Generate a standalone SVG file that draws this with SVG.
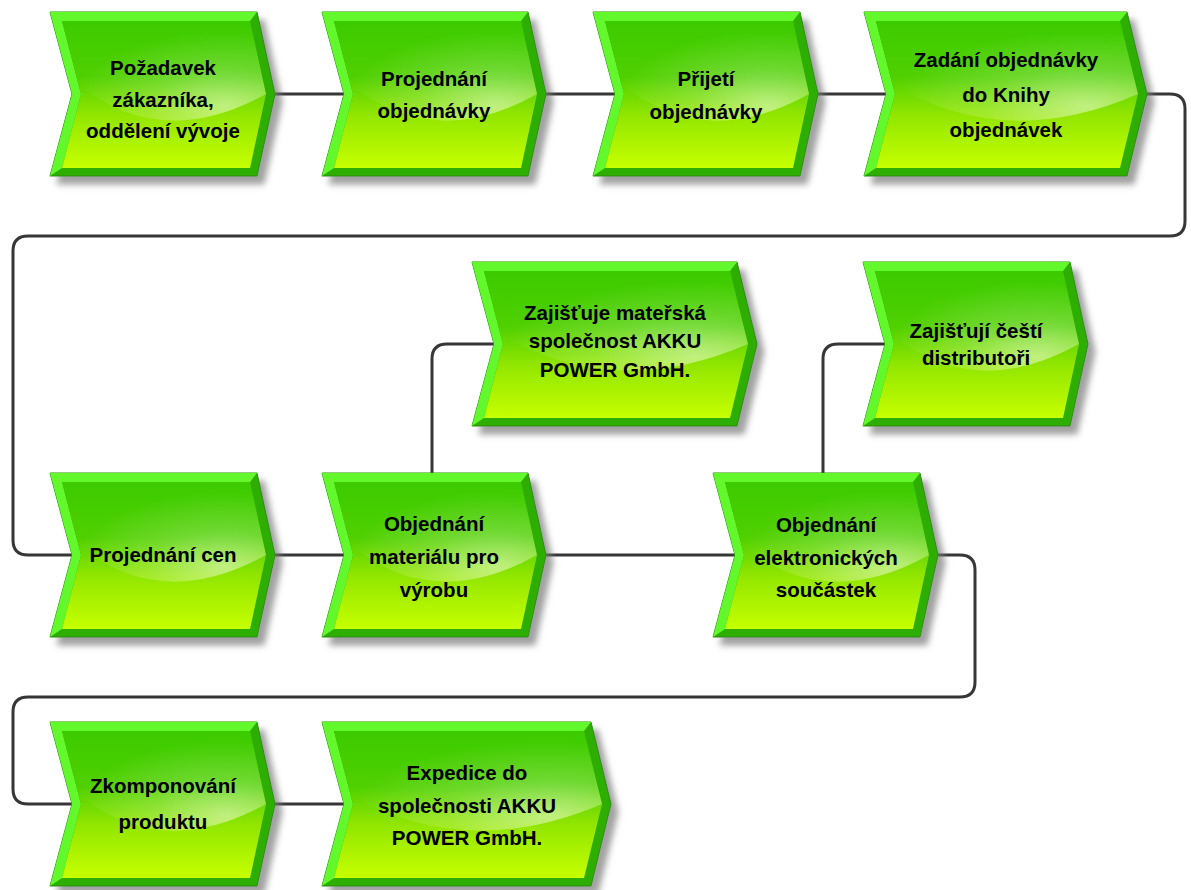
<svg xmlns="http://www.w3.org/2000/svg" width="1191" height="890" viewBox="0 0 1191 890">
  <style>
    .edge { fill: none; stroke: #363636; stroke-width: 3; stroke-linejoin: round; }
    .body { fill: #2fae00; stroke: #2a8f0c; stroke-width: 1; filter: url(#drop); }
    .lit { fill: #62f82c; }
    .face { fill: url(#faceGrad); }
    .gloss { fill: url(#glossGrad); }
    text { font-family: "Liberation Sans", Arial, sans-serif; font-weight: bold; font-size: 20.5px; fill: #000; text-anchor: middle; }
  </style>
  <defs>
    <linearGradient id="faceGrad" x1="0" y1="0" x2="0" y2="1">
      <stop offset="0" stop-color="#3ccb00"/>
      <stop offset="0.38" stop-color="#50d000"/>
      <stop offset="0.64" stop-color="#92e600"/>
      <stop offset="1" stop-color="#c6ff00"/>
    </linearGradient>
    <radialGradient id="glossGrad" cx="0.8" cy="0.85" r="0.75">
      <stop offset="0" stop-color="#ffffff" stop-opacity="0.5"/>
      <stop offset="0.5" stop-color="#ffffff" stop-opacity="0.18"/>
      <stop offset="1" stop-color="#ffffff" stop-opacity="0"/>
    </radialGradient>
    <filter id="drop" x="-10%" y="-10%" width="130%" height="130%">
      <feGaussianBlur in="SourceAlpha" stdDeviation="3"/>
      <feOffset dx="7" dy="8" result="blur"/>
      <feFlood flood-color="#7a7a7a" flood-opacity="0.7"/>
      <feComposite in2="blur" operator="in"/>
      <feMerge><feMergeNode/><feMergeNode in="SourceGraphic"/></feMerge>
    </filter>
  </defs>

  <g id="connectors">
    <path class="edge" d="M275,94 H344"/>
    <path class="edge" d="M546,94 H615"/>
    <path class="edge" d="M818,94 H886"/>
    <path class="edge" d="M1147,94 H1170 Q1185,94 1185,109 V221 Q1185,236 1170,236 H28 Q13,236 13,251 V540 Q13,555 28,555 H72"/>
    <path class="edge" d="M275,555 H344"/>
    <path class="edge" d="M546,555 H735"/>
    <path class="edge" d="M432,473 V359 Q432,344 447,344 H494"/>
    <path class="edge" d="M823,473 V359 Q823,344 838,344 H885"/>
    <path class="edge" d="M938,555 H960 Q975,555 975,570 V682 Q975,697 960,697 H28 Q13,697 13,712 V789 Q13,804 28,804 H72"/>
    <path class="edge" d="M275,804 H344"/>
  </g>

  <g id="pozadavek">
    <polygon class="body" points="50,12 257,12 275,94 257,176 50,176 72,94"/>
    <polygon class="lit" points="50,12 257,12 250,21 62,21 81,94 62,168 50,176 72,94"/>
    <polygon class="face" points="62,21 250,21 266,94 250,168 62,168 81,94"/>
    <path class="gloss" d="M62,21 H250 L266,94 Q162,152 78,84 Z"/>
    <text x="163" y="75">Požadavek</text>
    <text x="163" y="107">zákazníka,</text>
    <text x="163" y="138">oddělení vývoje</text>
  </g>

  <g id="projednani-objednavky">
    <polygon class="body" points="322,12 528,12 546,94 528,176 322,176 344,94"/>
    <polygon class="lit" points="322,12 528,12 521,21 334,21 353,94 334,168 322,176 344,94"/>
    <polygon class="face" points="334,21 521,21 537,94 521,168 334,168 353,94"/>
    <path class="gloss" d="M334,21 H521 L537,94 Q434,152 350,84 Z"/>
    <text x="434" y="86">Projednání</text>
    <text x="434" y="118">objednávky</text>
  </g>

  <g id="prijeti-objednavky">
    <polygon class="body" points="593,12 800,12 818,94 800,176 593,176 615,94"/>
    <polygon class="lit" points="593,12 800,12 793,21 605,21 624,94 605,168 593,176 615,94"/>
    <polygon class="face" points="605,21 793,21 809,94 793,168 605,168 624,94"/>
    <path class="gloss" d="M605,21 H793 L809,94 Q705,152 621,84 Z"/>
    <text x="706" y="86">Přijetí</text>
    <text x="706" y="119">objednávky</text>
  </g>

  <g id="zadani-objednavky">
    <polygon class="body" points="864,12 1127,12 1147,94 1127,176 864,176 886,94"/>
    <polygon class="lit" points="864,12 1127,12 1120,21 876,21 895,94 876,168 864,176 886,94"/>
    <polygon class="face" points="876,21 1120,21 1138,94 1120,168 876,168 895,94"/>
    <path class="gloss" d="M876,21 H1120 L1138,94 Q1005,152 892,84 Z"/>
    <text x="1006" y="67">Zadání objednávky</text>
    <text x="1006" y="102">do Knihy</text>
    <text x="1006" y="137">objednávek</text>
  </g>

  <g id="zajistuje-materska">
    <polygon class="body" points="472,262 737,262 757,344 737,426 472,426 494,344"/>
    <polygon class="lit" points="472,262 737,262 730,271 484,271 503,344 484,418 472,426 494,344"/>
    <polygon class="face" points="484,271 730,271 748,344 730,418 484,418 503,344"/>
    <path class="gloss" d="M484,271 H730 L748,344 Q614,402 500,334 Z"/>
    <text x="615" y="320">Zajišťuje mateřská</text>
    <text x="615" y="348">společnost AKKU</text>
    <text x="615" y="377">POWER GmbH.</text>
  </g>

  <g id="zajistuji-cesti">
    <polygon class="body" points="863,262 1070,262 1088,344 1070,426 863,426 885,344"/>
    <polygon class="lit" points="863,262 1070,262 1063,271 875,271 894,344 875,418 863,426 885,344"/>
    <polygon class="face" points="875,271 1063,271 1079,344 1063,418 875,418 894,344"/>
    <path class="gloss" d="M875,271 H1063 L1079,344 Q975,402 891,334 Z"/>
    <text x="976" y="338">Zajišťují čeští</text>
    <text x="976" y="365">distributoři</text>
  </g>

  <g id="projednani-cen">
    <polygon class="body" points="50,473 257,473 275,555 257,637 50,637 72,555"/>
    <polygon class="lit" points="50,473 257,473 250,482 62,482 81,555 62,629 50,637 72,555"/>
    <polygon class="face" points="62,482 250,482 266,555 250,629 62,629 81,555"/>
    <path class="gloss" d="M62,482 H250 L266,555 Q162,613 78,545 Z"/>
    <text x="163" y="562">Projednání cen</text>
  </g>

  <g id="objednani-materialu">
    <polygon class="body" points="322,473 528,473 546,555 528,637 322,637 344,555"/>
    <polygon class="lit" points="322,473 528,473 521,482 334,482 353,555 334,629 322,637 344,555"/>
    <polygon class="face" points="334,482 521,482 537,555 521,629 334,629 353,555"/>
    <path class="gloss" d="M334,482 H521 L537,555 Q434,613 350,545 Z"/>
    <text x="434" y="531">Objednání</text>
    <text x="434" y="564">materiálu pro</text>
    <text x="434" y="597">výrobu</text>
  </g>

  <g id="objednani-elektroniky">
    <polygon class="body" points="713,473 920,473 938,555 920,637 713,637 735,555"/>
    <polygon class="lit" points="713,473 920,473 913,482 725,482 744,555 725,629 713,637 735,555"/>
    <polygon class="face" points="725,482 913,482 929,555 913,629 725,629 744,555"/>
    <path class="gloss" d="M725,482 H913 L929,555 Q825,613 741,545 Z"/>
    <text x="826" y="532">Objednání</text>
    <text x="826" y="565">elektronických</text>
    <text x="826" y="597">součástek</text>
  </g>

  <g id="zkomponovani">
    <polygon class="body" points="50,722 257,722 275,804 257,886 50,886 72,804"/>
    <polygon class="lit" points="50,722 257,722 250,731 62,731 81,804 62,878 50,886 72,804"/>
    <polygon class="face" points="62,731 250,731 266,804 250,878 62,878 81,804"/>
    <path class="gloss" d="M62,731 H250 L266,804 Q162,862 78,794 Z"/>
    <text x="163" y="793">Zkomponování</text>
    <text x="163" y="829">produktu</text>
  </g>

  <g id="expedice">
    <polygon class="body" points="322,722 591,722 611,804 591,886 322,886 344,804"/>
    <polygon class="lit" points="322,722 591,722 584,731 334,731 353,804 334,878 322,886 344,804"/>
    <polygon class="face" points="334,731 584,731 602,804 584,878 334,878 353,804"/>
    <path class="gloss" d="M334,731 H584 L602,804 Q466,862 350,794 Z"/>
    <text x="467" y="780">Expedice do</text>
    <text x="467" y="813">společnosti AKKU</text>
    <text x="467" y="845">POWER GmbH.</text>
  </g>
</svg>
